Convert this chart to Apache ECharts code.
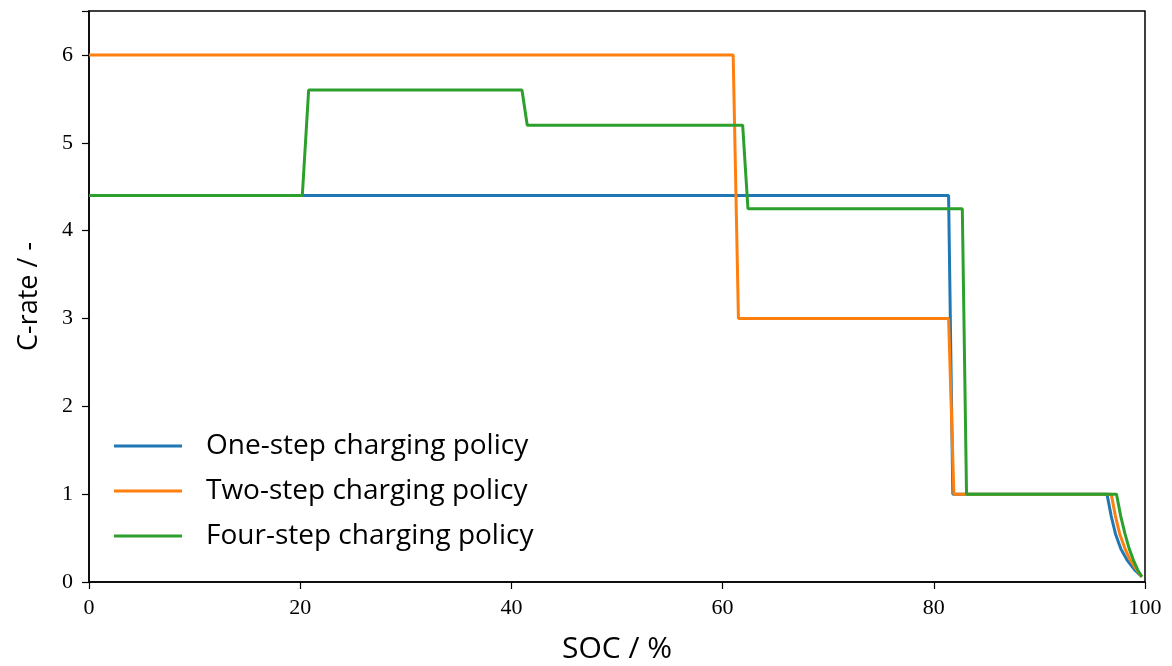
<!DOCTYPE html>
<html>
<head>
<meta charset="utf-8">
<script src="https://cdn.jsdelivr.net/npm/echarts@6/dist/echarts.min.js"></script>
<style>
html,body{margin:0;padding:0;background:#fff;}
#chart{width:1172px;height:666px;}
</style>
</head>
<body>
<div id="chart"></div>
<script>
// Data
const seriesNames = ['One-step charging policy', 'Two-step charging policy', 'Four-step charging policy'];
const oneStepSOC  = [0, 81.4, 81.8, 96.4, 96.8, 97.2, 97.7, 98.3, 99.0, 99.7];
const oneStepC    = [4.4, 4.4, 1.0, 1.0, 0.75, 0.55, 0.38, 0.25, 0.14, 0.06];
const twoStepSOC  = [0, 61.0, 61.5, 81.4, 81.9, 96.8, 97.2, 97.6, 98.1, 98.6, 99.2, 99.7];
const twoStepC    = [6.0, 6.0, 3.0, 3.0, 1.0, 1.0, 0.75, 0.55, 0.38, 0.25, 0.14, 0.06];
const fourStepSOC = [0, 20.2, 20.8, 41.0, 41.5, 61.9, 62.4, 82.7, 83.1, 97.3, 97.7, 98.1, 98.5, 98.9, 99.3, 99.7];
const fourStepC   = [4.4, 4.4, 5.6, 5.6, 5.2, 5.2, 4.25, 4.25, 1.0, 1.0, 0.75, 0.55, 0.38, 0.25, 0.14, 0.06];
const colors = ['#1f77b4', '#ff7f0e', '#2ca02c'];

function pairs(xs, ys) { return xs.map((x, i) => [x, ys[i]]); }

const chart = echarts.init(document.getElementById('chart'));
const sansFont = 'Open Sans';
const serifFont = 'Liberation Serif';

chart.setOption({
  animation: false,
  backgroundColor: '#fff',
  grid: {
    left: 89, right: 27, top: 11, bottom: 84,
    outerBoundsMode: 'none',
    containLabel: false,
    show: true, borderColor: '#000', borderWidth: 1.5, backgroundColor: 'transparent'
  },
  legend: {
    orient: 'vertical',
    left: 109,
    top: 427,
    icon: 'rect',
    itemWidth: 68,
    itemHeight: 3,
    itemGap: 17,
    data: seriesNames,
    textStyle: { fontFamily: sansFont, fontSize: 28, lineHeight: 28, color: '#000', padding: [0, 0, 0, 19] }
  },
  xAxis: {
    type: 'value',
    min: 0, max: 100, interval: 20,
    name: 'SOC / %',
    nameLocation: 'middle',
    nameGap: 52,
    nameTextStyle: { fontFamily: sansFont, fontSize: 30, color: '#000' },
    axisLine: { show: true, onZero: false, lineStyle: { color: '#000', width: 1.5 } },
    axisTick: { show: true, inside: false, length: 7, lineStyle: { color: '#000', width: 1.2 } },
    axisLabel: { fontFamily: serifFont, fontSize: 22, color: '#000', margin: 15 },
    splitLine: { show: false }
  },
  yAxis: {
    type: 'value',
    min: 0, max: 6.5, interval: 1,
    name: 'C-rate / -',
    nameLocation: 'middle',
    nameGap: 46,
    nameTextStyle: { fontFamily: sansFont, fontSize: 27, color: '#000' },
    axisLine: { show: true, onZero: false, lineStyle: { color: '#000', width: 1.5 } },
    axisTick: { show: true, inside: false, length: 7, lineStyle: { color: '#000', width: 1.2 } },
    axisLabel: {
      fontFamily: serifFont, fontSize: 22, color: '#000', margin: 16,
      formatter: v => (v > 6 ? '' : String(v))
    },
    splitLine: { show: false }
  },
  series: [
    { name: seriesNames[0], type: 'line', data: pairs(oneStepSOC, oneStepC), showSymbol: false, symbol: 'none',
      lineStyle: { color: colors[0], width: 3 }, itemStyle: { color: colors[0] }, z: 2 },
    { name: seriesNames[1], type: 'line', data: pairs(twoStepSOC, twoStepC), showSymbol: false, symbol: 'none',
      lineStyle: { color: colors[1], width: 3 }, itemStyle: { color: colors[1] }, z: 3 },
    { name: seriesNames[2], type: 'line', data: pairs(fourStepSOC, fourStepC), showSymbol: false, symbol: 'none',
      lineStyle: { color: colors[2], width: 3 }, itemStyle: { color: colors[2] }, z: 4 }
  ]
});
</script>
</body>
</html>
